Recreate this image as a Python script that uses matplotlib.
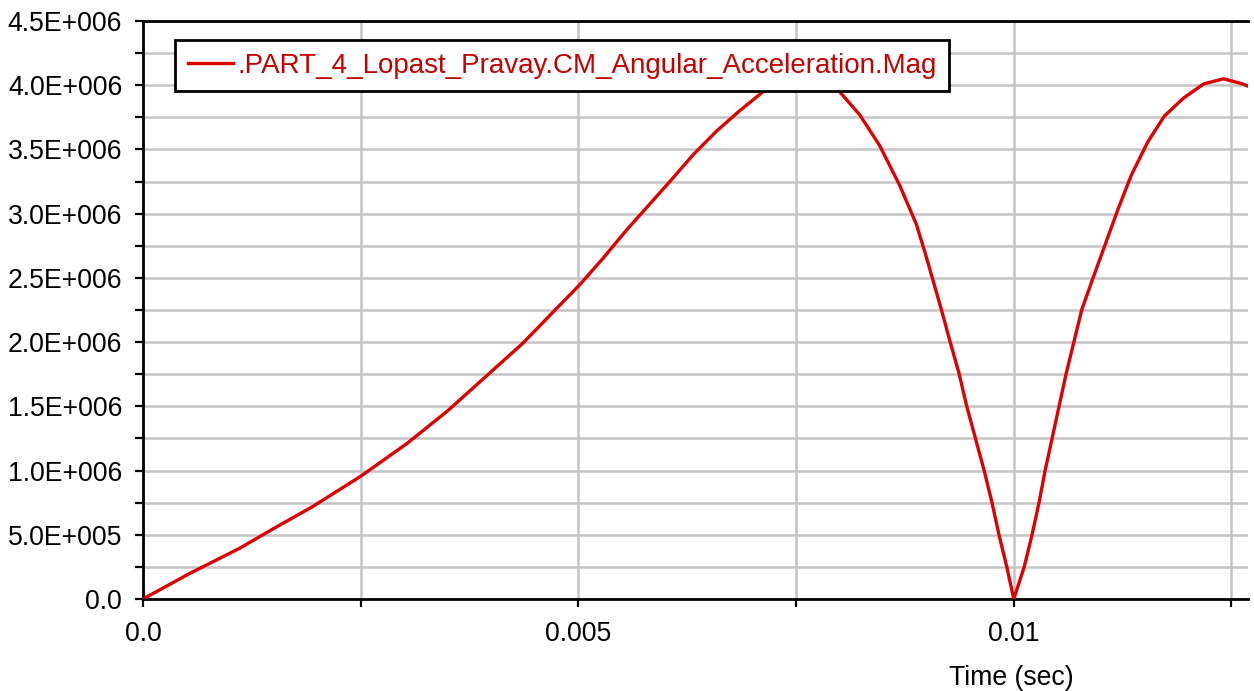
import numpy as np
import matplotlib
matplotlib.use('Agg')
import matplotlib.pyplot as plt
from matplotlib import ticker

time_s = [0.0, 0.00054, 0.00111, 0.00153, 0.00195, 0.00251, 0.00303, 0.00349,
          0.00395, 0.00436, 0.00479, 0.00502, 0.00528, 0.00555, 0.00582, 0.00605,
          0.00632, 0.00659, 0.00685, 0.00714, 0.00735, 0.00755, 0.00776, 0.00800,
          0.00823, 0.00846, 0.00869, 0.00888, 0.00898, 0.00906, 0.00917, 0.00927,
          0.00937, 0.00946, 0.00956, 0.00966, 0.00975, 0.00983, 0.00992, 0.01000,
          0.01012, 0.01021, 0.01029, 0.01036, 0.01044, 0.01052, 0.01060, 0.01069,
          0.01078, 0.01090, 0.01105, 0.01120, 0.01135, 0.01154, 0.01173, 0.01195,
          0.01218, 0.01241, 0.01263, 0.01270]
accel_e6 = [0.0, 0.20, 0.395, 0.56, 0.72, 0.96, 1.21, 1.46,
            1.74, 1.99, 2.29, 2.45, 2.65, 2.87, 3.075, 3.25,
            3.46, 3.645, 3.80, 3.96, 4.03, 4.06, 4.04, 3.95,
            3.77, 3.53, 3.22, 2.92, 2.70, 2.51, 2.25, 2.00,
            1.76, 1.50, 1.25, 1.00, 0.75, 0.50, 0.25, 0.0,
            0.25, 0.50, 0.75, 1.00, 1.25, 1.50, 1.75, 2.00,
            2.25, 2.48, 2.76, 3.04, 3.30, 3.56, 3.76, 3.90,
            4.01, 4.05, 4.01, 3.99]

y_ticks = [0.0, 5e5, 1e6, 1.5e6, 2e6, 2.5e6, 3e6, 3.5e6, 4e6, 4.5e6]
y_labels = ['0.0', '5.0E+005', '1.0E+006', '1.5E+006', '2.0E+006', '2.5E+006',
            '3.0E+006', '3.5E+006', '4.0E+006', '4.5E+006']
x_ticks = [0.0, 0.005, 0.01]
x_labels = ['0.0', '0.005', '0.01']
series_name = '.PART_4_Lopast_Pravay.CM_Angular_Acceleration.Mag'

plt.rcParams['font.family'] = ['Liberation Sans', 'DejaVu Sans']

fig = plt.figure(figsize=(12.54, 6.91), dpi=100)
ax = fig.add_axes([143 / 1254, 1 - 599 / 691, (1248 - 143) / 1254, (599 - 21) / 691])

accel = np.array(accel_e6) * 1e6
ax.plot(time_s, accel, color='#dd0000', lw=2.4, label=series_name, zorder=3)

ax.set_xlim(0, 0.01269)
ax.set_ylim(0, 4.5e6)
ax.set_yticks(y_ticks)
ax.set_yticklabels(y_labels)
ax.set_xticks(x_ticks)
ax.set_xticklabels(x_labels)
ax.yaxis.set_minor_locator(ticker.MultipleLocator(2.5e5))
ax.xaxis.set_minor_locator(ticker.MultipleLocator(0.0025))

ax.grid(True, which='both', color='#c4c4c4', lw=1.8, zorder=0)
ax.set_axisbelow(True)
ax.tick_params(axis='both', which='both', direction='out', length=6, width=1.6,
               labelsize=19.2, colors='black')
ax.tick_params(axis='x', which='both', pad=10)
ax.tick_params(axis='y', which='both', pad=9)

for side in ['left', 'bottom', 'top']:
    ax.spines[side].set_linewidth(2)
    ax.spines[side].set_color('black')
ax.spines['right'].set_visible(False)

ax.set_xlabel('Time (sec)', fontsize=19.2)
ax.xaxis.set_label_coords((1011 - 143) / 1105, -0.115)

leg = ax.legend(loc='upper left', bbox_to_anchor=(0.029, 0.967), fontsize=20,
                handlelength=1.62, handletextpad=0.18, borderpad=0.45,
                borderaxespad=0, fancybox=False, framealpha=1, edgecolor='black')
leg.get_frame().set_linewidth(2)
for txt in leg.get_texts():
    txt.set_color('#c40000')

plt.savefig('out.png', dpi=100)
